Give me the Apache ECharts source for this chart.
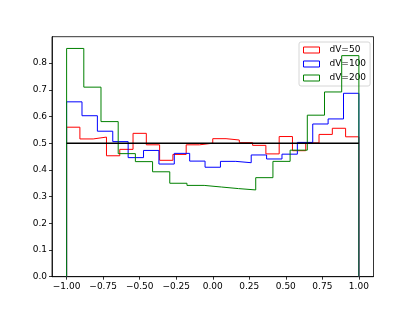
<!DOCTYPE html>
<html>
<head>
<meta charset="utf-8">
<script src="https://cdn.jsdelivr.net/npm/echarts@6/dist/echarts.min.js"></script>
<style>
html,body{margin:0;padding:0;background:#fff;}
#c{width:415px;height:311px;}
</style>
</head>
<body>
<div id="c"></div>
<script>
// Histogram densities (step outlines), bins evenly spaced over [-1, 1]
var seriesNames = ['dV=50', 'dV=100', 'dV=200'];
var dV50 = [0.560,0.516,0.523,0.453,0.477,0.537,0.494,0.436,0.458,0.494,0.500,0.517,0.512,0.502,0.492,0.460,0.525,0.472,0.501,0.533,0.556,0.524];
var dV100 = [0.655,0.603,0.545,0.506,0.446,0.473,0.422,0.462,0.433,0.410,0.432,0.427,0.456,0.441,0.459,0.503,0.572,0.591,0.687];
var dV200 = [0.855,0.710,0.581,0.461,0.431,0.393,0.350,0.342,0.336,0.330,0.325,0.371,0.432,0.474,0.605,0.692,0.828];
var histRange = [-1, 1];
var refLine = 0.5;
var xTicks = [-1.00,-0.75,-0.50,-0.25,0.00,0.25,0.50,0.75,1.00];
var yTicks = [0.0,0.1,0.2,0.3,0.4,0.5,0.6,0.7,0.8];

function stepPoints(vals) {
  var n = vals.length, lo = histRange[0], hi = histRange[1];
  var pts = [[lo, 0]];
  for (var i = 0; i < n; i++) pts.push([lo + (hi - lo) * i / n, vals[i]]);
  pts.push([hi, vals[n - 1]]);
  pts.push([hi, 0]);
  return pts;
}
var colors = ['#ff0000', '#0000ff', '#008000'];
var allVals = [dV50, dV100, dV200];

var series = allVals.map(function (v, i) {
  return {
    name: seriesNames[i], type: 'line', step: 'end', data: stepPoints(v),
    symbol: 'none', lineStyle: { color: colors[i], width: 1 },
    itemStyle: { color: colors[i] }, z: 2 + i, animation: false
  };
});
series.push({
  name: 'ref', type: 'line', data: [[histRange[0], refLine], [histRange[1], refLine]],
  symbol: 'none', lineStyle: { color: '#000', width: 1.5 }, z: 10, animation: false, silent: true
});

var font = 'DejaVu Sans';
function fmtX(v) { var s = Math.abs(v).toFixed(2); return (v < -1e-9 ? '\u2212' : '') + s; }

var chart = echarts.init(document.getElementById('c'), null, { renderer: 'canvas' });
chart.setOption({
  animation: false,
  backgroundColor: '#fff',
  grid: { left: 52, right: 41.5, top: 36.7, bottom: 34.3, show: true, borderColor: '#000', borderWidth: 0.8, backgroundColor: 'transparent' },
  legend: {
    orient: 'vertical', left: 299, top: 42,
    data: seriesNames.map(function (n, i) {
      return { name: n, icon: 'rect', itemStyle: { color: 'rgba(0,0,0,0)', borderColor: colors[i], borderWidth: 1 } };
    }),
    itemWidth: 16, itemHeight: 6, itemGap: 4,
    padding: [3, 4, 3, 4],
    backgroundColor: 'rgba(255,255,255,0.8)', borderColor: '#cccccc', borderWidth: 0.8, borderRadius: 2,
    textStyle: { fontFamily: font, fontSize: 9, color: '#000', lineHeight: 10, padding: [0, 0, 0, 5] }
  },
  xAxis: {
    type: 'value', min: -1.1, max: 1.1,
    axisLine: { show: true, onZero: false, lineStyle: { color: '#000', width: 0.8 } },
    axisTick: { show: true, length: 3, customValues: xTicks, lineStyle: { color: '#000', width: 0.8 } },
    axisLabel: { customValues: xTicks, formatter: fmtX, fontFamily: font, fontSize: 9, color: '#000', margin: 5 },
    splitLine: { show: false }
  },
  yAxis: {
    type: 'value', min: 0, max: 0.899,
    axisLine: { show: true, onZero: false, lineStyle: { color: '#000', width: 0.8 } },
    axisTick: { show: true, length: 3, customValues: yTicks, lineStyle: { color: '#000', width: 0.8 } },
    axisLabel: { customValues: yTicks, formatter: function (v) { return v.toFixed(1); }, fontFamily: font, fontSize: 9, color: '#000', margin: 5 },
    splitLine: { show: false }
  },
  series: series
});
</script>
</body>
</html>
